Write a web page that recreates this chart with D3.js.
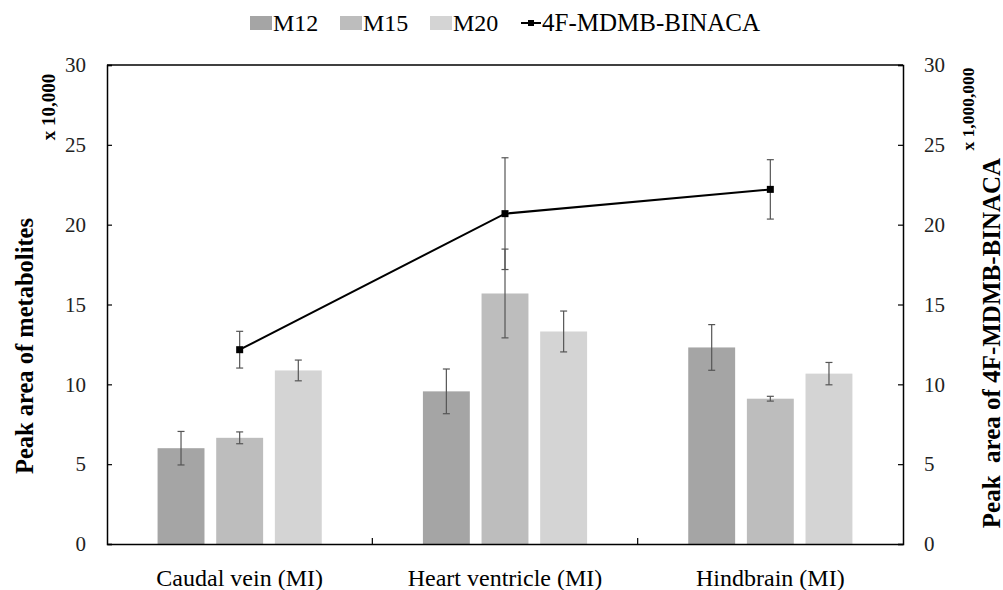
<!DOCTYPE html>
<html><head><meta charset="utf-8">
<script src="https://cdn.jsdelivr.net/npm/d3@7"></script>
<style>body{margin:0;background:#fff}svg{display:block}</style>
</head><body><svg id="c" width="1003" height="590"></svg>
<script>
const categories = ["Caudal vein (MI)", "Heart ventricle (MI)", "Hindbrain (MI)"];
const series = ["M12", "M15", "M20"];
const M12 = [6.0, 9.56, 12.31];
const M12err = [1.05, 1.4, 1.43];
const M15 = [6.65, 15.69, 9.1];
const M15err = [0.37, 2.78, 0.15];
const M20 = [10.87, 13.31, 10.67];
const M20err = [0.65, 1.28, 0.7];
const drug = [12.17, 20.69, 22.21];
const drugErr = [1.15, 3.5, 1.86];
const ticks = [0, 5, 10, 15, 20, 25, 30];
const colors = {M12: "#a5a5a5", M15: "#bdbdbd", M20: "#d4d4d4"};
const values = {M12, M15, M20};
const errs = {M12: M12err, M15: M15err, M20: M20err};
const FONT = "Liberation Serif";

const svg = d3.select("#c");
const L = 107, R = 903, T = 65, B = 544;
const x0 = d3.scaleBand().domain(categories).range([L, R]).paddingInner(0.337).paddingOuter(0.1685);
const x1 = d3.scaleBand().domain(series).range([0, x0.bandwidth()]).paddingInner(0.2).paddingOuter(0.1);
const y = d3.scaleLinear().domain([0, 30]).range([B, T]);
const y2 = d3.scaleLinear().domain([0, 30]).range([B, T]);

// bars
series.forEach(s => {
  svg.append("g").selectAll("rect").data(categories).join("rect")
    .attr("x", c => x0(c) + x1(s)).attr("width", x1.bandwidth())
    .attr("y", (c, i) => y(values[s][i])).attr("height", (c, i) => B - y(values[s][i]))
    .attr("fill", colors[s]);
});
// bar error bars
series.forEach(s => {
  const g = svg.append("g").attr("stroke", "#555").attr("stroke-width", 1.2);
  categories.forEach((c, i) => {
    const cx = x0(c) + x1(s) + x1.bandwidth() / 2;
    const v = values[s][i], e = errs[s][i];
    g.append("line").attr("x1", cx).attr("x2", cx).attr("y1", y(v + e)).attr("y2", y(v - e));
    [v + e, v - e].forEach(t => g.append("line").attr("x1", cx - 3.5).attr("x2", cx + 3.5).attr("y1", y(t)).attr("y2", y(t)));
  });
});
// line
const cxs = categories.map(c => x0(c) + x0.bandwidth() / 2);
const lg = svg.append("g");
categories.forEach((c, i) => {
  const cx = cxs[i], v = drug[i], e = drugErr[i];
  lg.append("line").attr("x1", cx).attr("x2", cx).attr("y1", y2(v + e)).attr("y2", y2(v - e)).attr("stroke", "#555").attr("stroke-width", 1.2);
  [v + e, v - e].forEach(t => lg.append("line").attr("x1", cx - 3.5).attr("x2", cx + 3.5).attr("y1", y2(t)).attr("y2", y2(t)).attr("stroke", "#555").attr("stroke-width", 1.2));
});
lg.append("path").datum(drug).attr("fill", "none").attr("stroke", "#000").attr("stroke-width", 2)
  .attr("d", d3.line().x((d, i) => cxs[i]).y(d => y2(d)));
lg.selectAll("rect").data(drug).join("rect")
  .attr("x", (d, i) => cxs[i] - 3.5).attr("y", d => y2(d) - 3.5).attr("width", 7).attr("height", 7).attr("fill", "#000");

// axes
const ax = svg.append("g").attr("transform", `translate(${L},0)`)
  .call(d3.axisLeft(y).tickValues(ticks).tickSize(-5).tickPadding(21).tickFormat(d3.format("d")));
const ax2 = svg.append("g").attr("transform", `translate(${R},0)`)
  .call(d3.axisRight(y2).tickValues(ticks).tickSize(-5).tickPadding(21).tickFormat(d3.format("d")));
const axb = svg.append("g").attr("transform", `translate(0,${B})`)
  .call(d3.axisBottom(x0).tickSize(0).tickPadding(25));
[ax, ax2, axb].forEach(a => {
  a.attr("font-family", FONT);
  a.select(".domain").attr("stroke", "#000").attr("stroke-width", 1.5);
  a.selectAll(".tick line").attr("stroke", "#000").attr("stroke-width", 1.2);
  a.selectAll("text").attr("font-family", FONT).attr("font-size", 21).attr("fill", "#222");
});
axb.selectAll("text").attr("font-size", 24).attr("fill", "#000");
// top border
svg.append("line").attr("x1", L).attr("x2", R).attr("y1", T).attr("y2", T).attr("stroke", "#000").attr("stroke-width", 1.5);
// category separators (inner ticks)
const seps = [categories[1], categories[2]].map(c => x0(c) - x0.step() * x0.paddingInner() / 2);
svg.append("g").selectAll("line").data(seps).join("line")
  .attr("x1", d => d).attr("x2", d => d).attr("y1", B).attr("y2", B - 6).attr("stroke", "#000").attr("stroke-width", 1.2);

// titles
function vtext(x, yy, size, txt) {
  return svg.append("text").attr("transform", `translate(${x},${yy}) rotate(-90)`).attr("text-anchor", "middle")
    .attr("dominant-baseline", "central").attr("font-family", FONT).attr("font-weight", "bold")
    .attr("font-size", size).attr("fill", "#000").style("white-space", "pre").text(txt);
}
vtext(24, 346, 24.5, "Peak area of metabolites");
vtext(48, 107, 19, "x 10,000");
vtext(991, 343, 25, "Peak  area of 4F-MDMB-BINACA");
vtext(968, 109, 17.5, "x 1,000,000");

// legend
const leg = svg.append("g").attr("transform", "translate(0,23)");
const legX = [250, 340, 430];
series.forEach((s, i) => {
  leg.append("rect").attr("x", legX[i]).attr("y", -7).attr("width", 22).attr("height", 14).attr("fill", colors[s]);
  leg.append("text").attr("x", legX[i] + 23).attr("y", 8).attr("font-family", FONT).attr("font-size", 24).attr("fill", "#000").text(s);
});
leg.append("line").attr("x1", 521).attr("x2", 541).attr("y1", 0).attr("y2", 0).attr("stroke", "#000").attr("stroke-width", 2);
leg.append("rect").attr("x", 528).attr("y", -3).attr("width", 6).attr("height", 6).attr("fill", "#000");
leg.append("text").attr("x", 542).attr("y", 8).attr("font-family", FONT).attr("font-size", 25).attr("fill", "#000").text("4F-MDMB-BINACA");
</script></body></html>
